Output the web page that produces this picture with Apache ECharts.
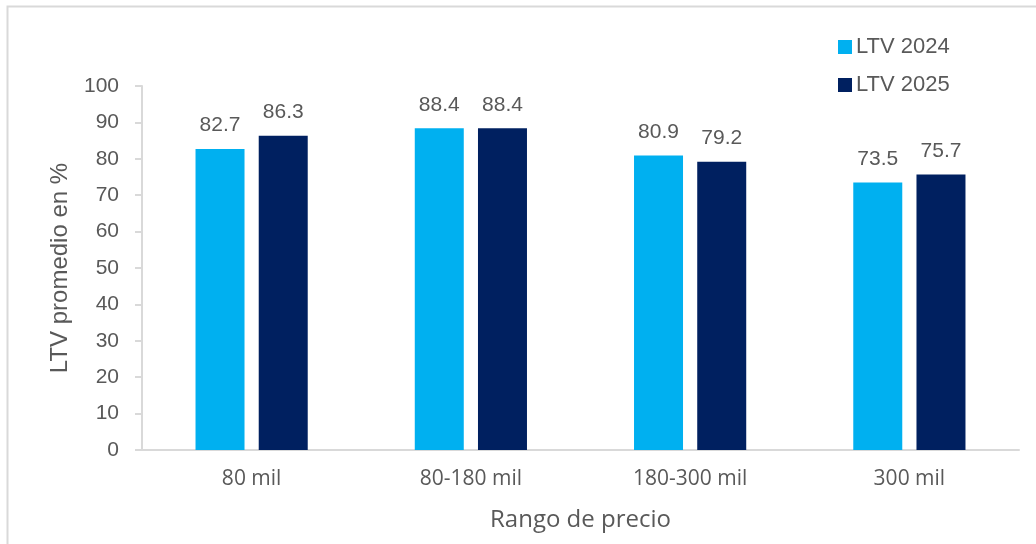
<!DOCTYPE html>
<html>
<head>
<meta charset="utf-8">
<script src="https://cdn.jsdelivr.net/npm/echarts@6/dist/echarts.min.js"></script>
<style>
  html, body { margin: 0; padding: 0; background: #ffffff; }
  #chart { width: 1036px; height: 544px; }
</style>
</head>
<body>
<div id="chart"></div>
<script>
// Price ranges and average LTV per year
const categories = ['80 mil', '80-180 mil', '180-300 mil', '300 mil'];
const ltv2024 = [82.7, 88.4, 80.9, 73.5];
const ltv2025 = [86.3, 88.4, 79.2, 75.7];
const yTicks = { min: 0, max: 100, interval: 10 };

const textColor = '#595959';
const numFont = '"Liberation Sans", Arial, sans-serif';
const catFont = '"Open Sans", "Noto Sans", sans-serif';

const chart = echarts.init(document.getElementById('chart'), null, { renderer: 'canvas' });

const valueLabel = {
  show: true,
  position: 'top',
  distance: 13,
  color: textColor,
  fontFamily: numFont,
  fontSize: 21,
  formatter: p => p.value.toFixed(1)
};

chart.setOption({
  animation: false,
  backgroundColor: '#ffffff',
  graphic: [{
    type: 'rect',
    shape: { x: 7.5, y: 6.5, width: 1060, height: 580 },
    style: { fill: 'none', stroke: '#d9d9d9', lineWidth: 2 },
    silent: true
  }],
  legend: {
    orient: 'vertical',
    left: 838,
    top: 36,
    padding: 0,
    itemWidth: 14,
    itemHeight: 14,
    itemGap: 16,
    icon: 'rect',
    textStyle: { color: textColor, fontFamily: numFont, fontSize: 22, padding: [0, 0, 0, -1] },
    data: ['LTV 2024', 'LTV 2025']
  },
  grid: { left: 142, right: 17, top: 86, bottom: 94, containLabel: false },
  xAxis: {
    type: 'category',
    data: categories,
    name: 'Rango de precio',
    nameLocation: 'middle',
    nameGap: 58,
    nameTextStyle: { color: textColor, fontFamily: catFont, fontSize: 24 },
    axisLine: { show: true, lineStyle: { color: '#d9d9d9', width: 2 } },
    axisTick: { show: false },
    axisLabel: { color: textColor, fontFamily: catFont, fontSize: 21, margin: 19 }
  },
  yAxis: {
    type: 'value',
    min: yTicks.min,
    max: yTicks.max,
    interval: yTicks.interval,
    name: 'LTV promedio en %',
    nameLocation: 'middle',
    nameGap: 70,
    nameTextStyle: { color: textColor, fontFamily: numFont, fontSize: 24 },
    axisLine: { show: true, lineStyle: { color: '#d9d9d9', width: 2 } },
    axisTick: { show: true, length: 7, lineStyle: { color: '#d9d9d9', width: 2 } },
    splitLine: { show: false },
    axisLabel: { color: textColor, fontFamily: numFont, fontSize: 21, margin: 23 }
  },
  series: [
    {
      name: 'LTV 2024',
      type: 'bar',
      data: ltv2024,
      barWidth: 49,
      barGap: '29%',
      itemStyle: { color: '#00B0F0' },
      label: valueLabel
    },
    {
      name: 'LTV 2025',
      type: 'bar',
      data: ltv2025,
      barWidth: 49,
      barGap: '29%',
      itemStyle: { color: '#002060' },
      label: valueLabel
    }
  ]
});
</script>
</body>
</html>
